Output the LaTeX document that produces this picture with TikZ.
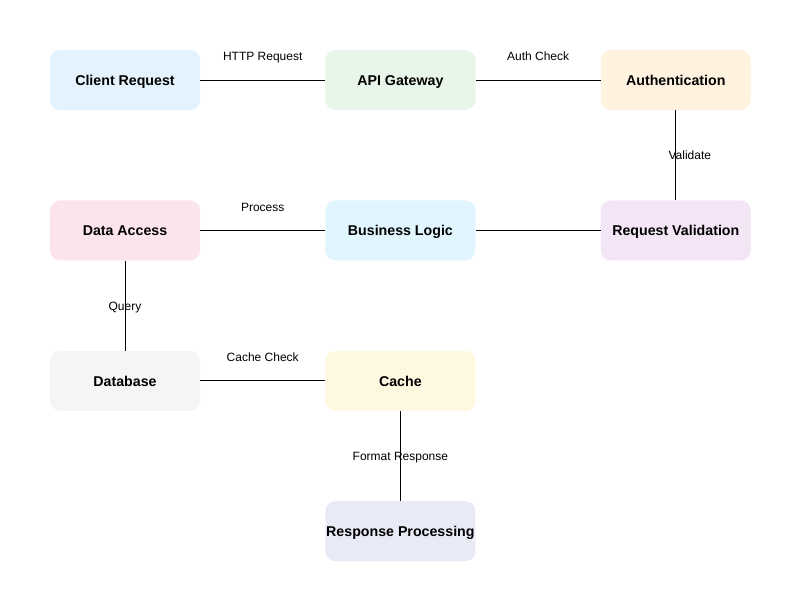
\documentclass[tikz,border=0pt]{standalone}
\usepackage{fontspec}
\setmainfont{Liberation Sans}
\usetikzlibrary{positioning}

\definecolor{clientc}{HTML}{E3F2FD}
\definecolor{gatewayc}{HTML}{E8F5E9}
\definecolor{authc}{HTML}{FFF3E0}
\definecolor{validc}{HTML}{F3E5F5}
\definecolor{logicc}{HTML}{E1F5FE}
\definecolor{datac}{HTML}{FCE4EC}
\definecolor{dbc}{HTML}{F5F5F5}
\definecolor{cachec}{HTML}{FFF8E1}
\definecolor{respc}{HTML}{E8EAF6}

\begin{document}
\begin{tikzpicture}[x=1pt,y=-1pt]

  \tikzset{main node/.style={rectangle, rounded corners=10pt,
  		minimum width=150pt, minimum height=60pt, inner sep=0pt,
  		text height=14pt, text depth=3pt,
  		text centered, font=\fontsize{14.2}{17}\selectfont\bfseries}, }
  \tikzset{edge text/.style={inner sep=0pt, text height=12pt, text depth=2.5pt,
  		font=\fontsize{12}{14}\selectfont}, }
  \tikzset{linea/.style={draw=black, line width=1pt}, }
\useasboundingbox (0,0) rectangle (800,600);
\node[main node, fill=clientc] (client) at (125,80) {Client Request};
\node[main node, fill=gatewayc] (gateway) [right=125pt of client] {API Gateway};
\node[main node, fill=authc] (auth) [right=125pt of gateway] {Authentication};
\node[main node, fill=validc] (valid) [below=90pt of auth] {Request Validation};
\node[main node, fill=logicc] (logic) [below=90pt of gateway] {Business Logic};
\node[main node, fill=datac] (data) [below=90pt of client] {Data Access};
\node[main node, fill=dbc] (db) [below=90pt of data] {Database};
\node[main node, fill=cachec] (cache) [right=125pt of db] {Cache};
\node[main node, fill=respc] (resp) [below=90pt of cache] {Response Processing};
\foreach \x /\y /\t /\dx /\dy in{client/gateway/HTTP Request/0/24,
    gateway/auth/Auth Check/0/24, auth/valid/Validate/14/0, valid/logic//0/0,
    logic/data/Process/0/24, data/db/Query/0/0, db/cache/Cache Check/0/24,
    cache/resp/Format Response/0/0}
  \path[linea] (\x) edge node[edge text, xshift=\dx pt, yshift=\dy pt] {\t} (\y);
%%
\end{tikzpicture}
\end{document}
